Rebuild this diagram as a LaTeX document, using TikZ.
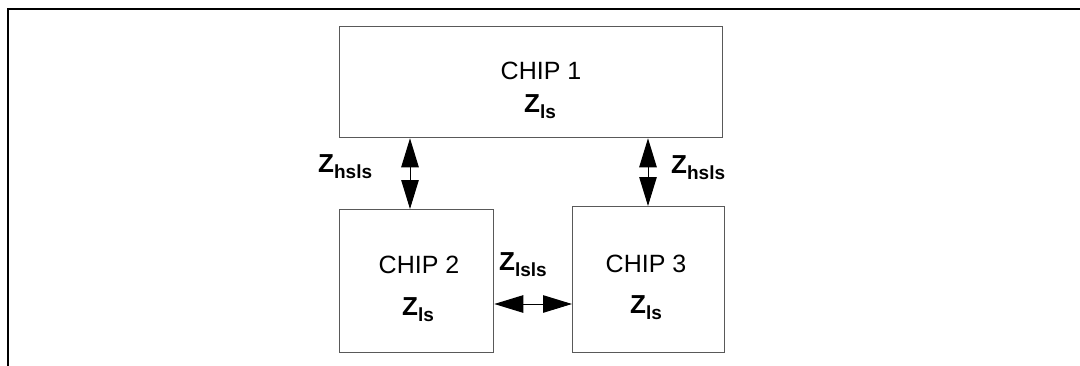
\documentclass[tikz,border=0pt]{standalone}
\usepackage{fontspec}
\setmainfont{Liberation Sans}
\usetikzlibrary{arrows.meta}
\newcommand\Zsub[1]{\textbf{\fontsize{26}{30}\selectfont Z\raisebox{-6pt}{\fontsize{19}{20}\selectfont #1}}}
\begin{document}
\begin{tikzpicture}[x=1pt,y=-1pt,
 chip/.style={draw=black!65, line width=1.3pt, inner sep=0, anchor=north west},
 lbl/.style={font=\fontsize{25}{30}\selectfont, inner sep=0, anchor=base},
 zlbl/.style={inner sep=0, anchor=base west},
 dbl/.style={line width=1pt, {Triangle[length=29pt,width=17.5pt]}-{Triangle[length=29pt,width=17.5pt]}},
]
\useasboundingbox (0,0) rectangle (1080,365);
\draw[line width=2pt] (8,367) -- (8,9) -- (1083,9);
\node[chip, minimum width=383pt, minimum height=111pt] (chip1) at (339,26) {};
\node[chip, minimum width=154pt, minimum height=143pt] (chip2) at (339,209) {};
\node[chip, minimum width=152pt, minimum height=146pt] (chip3) at (572,206) {};
\node[lbl] (t1) at (541,79) {CHIP 1};
\node[lbl] (t2) at (419,273) {CHIP 2};
\node[lbl] (t3) at (646,272) {CHIP 3};
\node[zlbl] (z1) at (524,112) {\Zsub{ls}};
\node[zlbl] (z2) at (402,315) {\Zsub{ls}};
\node[zlbl] (z3) at (630,313) {\Zsub{ls}};
\node[zlbl] (h1) at (318,172) {\Zsub{hsls}};
\node[zlbl] (h2) at (671,173) {\Zsub{hsls}};
\node[zlbl] (l1) at (499,270) {\Zsub{lsls}};
\coordinate (xa) at (410,0);
\coordinate (xb) at (648,0);
\coordinate (yh) at (0,304);
\draw[dbl] (chip1.south -| xa) -- (chip2.north -| xa);
\draw[dbl] (chip1.south -| xb) -- (chip3.north -| xb);
\draw[dbl] (chip2.east |- yh) -- (chip3.west |- yh);
\end{tikzpicture}
\end{document}
